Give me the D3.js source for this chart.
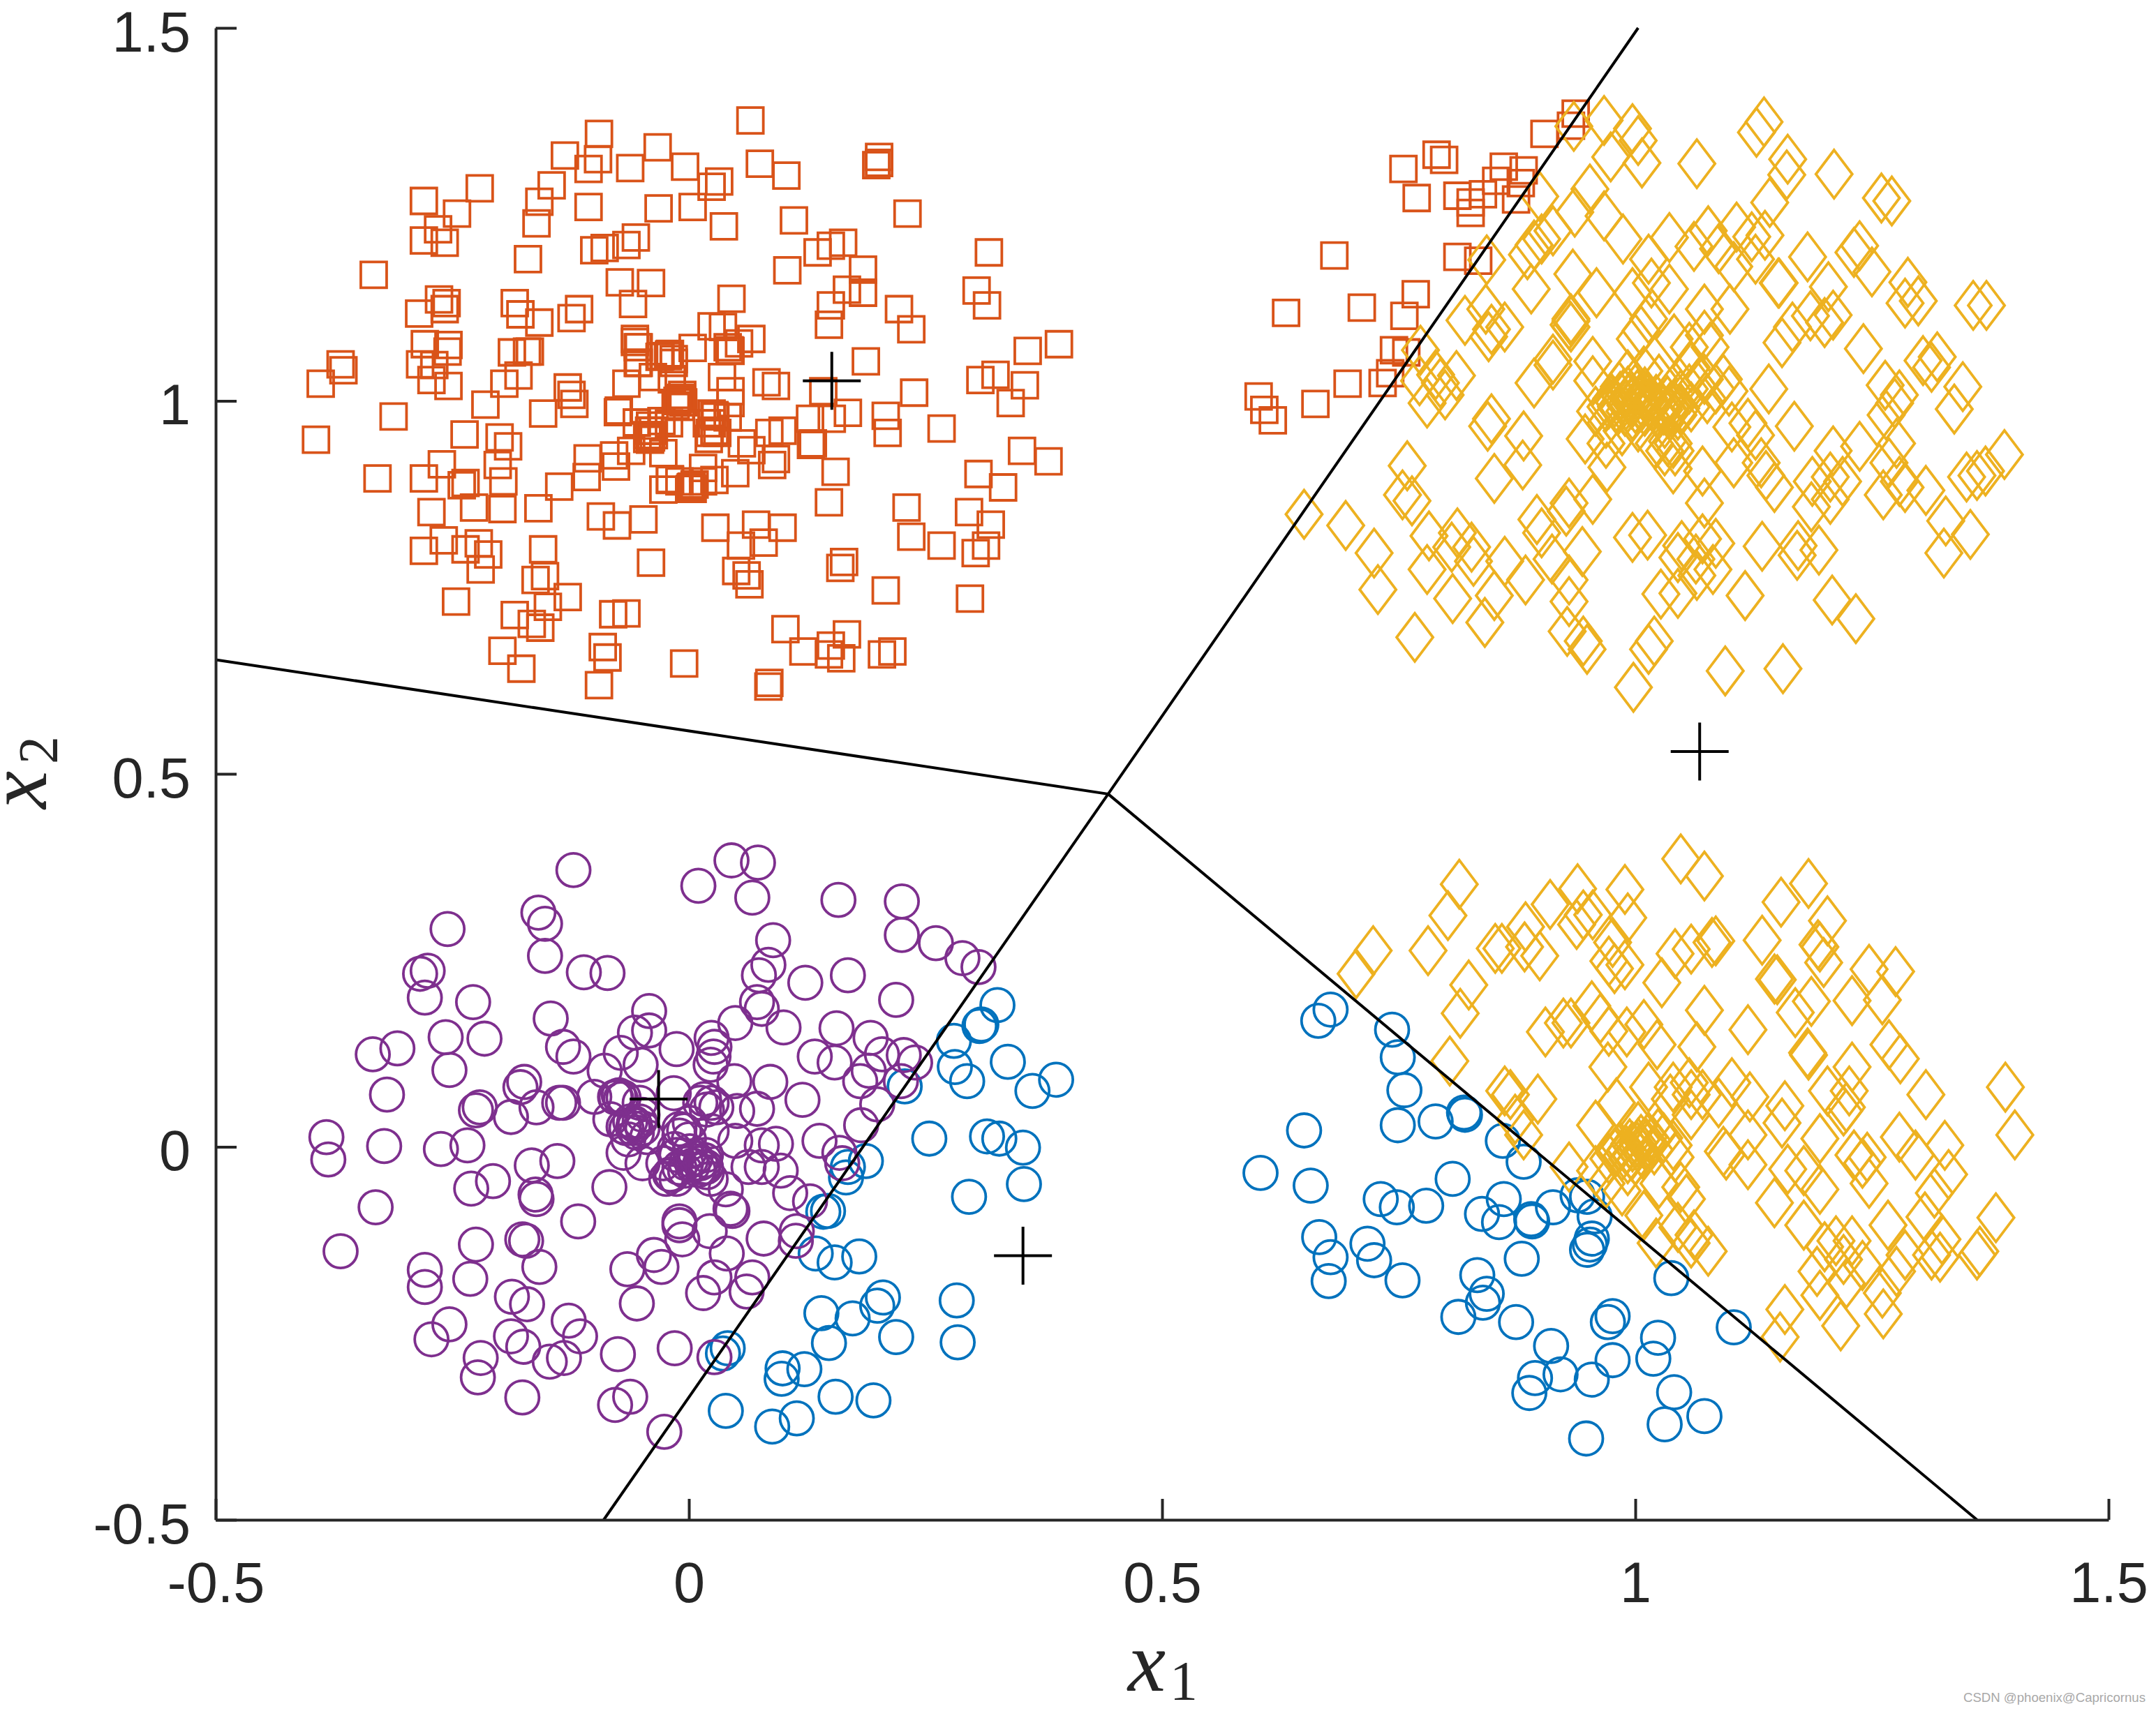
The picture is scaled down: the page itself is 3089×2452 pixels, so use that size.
<!DOCTYPE html>
<html><head><meta charset="utf-8">
<script src="https://cdn.jsdelivr.net/npm/d3@7"></script>
<style>html,body{margin:0;padding:0;background:#fff}svg{display:block}</style>
</head><body><svg id="c" width="3089" height="2452"></svg>
<script>
const xTicks=[-0.5,0,0.5,1,1.5];
const yTicks=[-0.5,0,0.5,1,1.5];
const tickLabels=["-0.5","0","0.5","1","1.5"];
const classColors=["#0072BD","#D95319","#EDB120","#7E2F8E"];
const watermark="CSDN @phoenix@Capricornus";
const boundaryA=[[-0.5,0.653],[0.443,0.473],[1.003,1.5]];
const boundaryB=[[0.443,0.473],[1.361,-0.5]];
const boundaryC=[[0.443,0.473],[-0.09,-0.5]];
const centroids=[[0.151,1.027],[1.068,0.530],[-0.032,0.064],[0.353,-0.146]];
const blueCircles=[[.326,.190],[.309,.164],[.307,.162],[.280,.142],[.337,.114],[.281,.107],[.294,.088],[.228,.081],[.388,.090],[.363,.075],[.254,.011],[.315,.014],[.328,.011],[.353,-.001],[.187,-.019],[.168,-.027],[.166,-.041],[.354,-.050],[.296,-.067],[.147,-.086],[.142,-.087],[.134,-.143],[.154,-.155],[.180,-.147],[.205,-.202],[.199,-.213],[.283,-.206],[.140,-.223],[.173,-.230],[.148,-.263],[.219,-.255],[.284,-.262],[.041,-.270],[.036,-.277],[.099,-.297],[.122,-.298],[.098,-.311],[.155,-.335],[.195,-.340],[.039,-.354],[.114,-.364],[.088,-.375],
[.678,.184],[.665,.169],[.743,.157],[.749,.120],[.756,.076],[.650,.022],[.749,.029],[.789,.034],[.819,.046],[.820,.043],[.860,.008],[.604,-.035],[.882,-.020],[.657,-.052],[.807,-.043],[.731,-.070],[.748,-.081],[.779,-.079],[.939,-.065],[.949,-.067],[.957,-.093],[.913,-.081],[.861,-.070],[.838,-.090],[.856,-.101],[.890,-.097],[.891,-.100],[.954,-.123],[.952,-.131],[.949,-.138],[.666,-.121],[.678,-.148],[.717,-.130],[.724,-.152],[.676,-.180],[.754,-.179],[.880,-.150],[.833,-.172],[1.038,-.176],[.843,-.197],[.839,-.209],[.813,-.228],[.874,-.235],[.976,-.227],[.971,-.235],[1.104,-.242],[.911,-.267],[1.024,-.256],[1.019,-.284],[.976,-.286],[.921,-.305],[.894,-.310],[.954,-.312],[.888,-.330],[1.041,-.329],[1.073,-.361],[1.031,-.372],[.948,-.391]];
const orangeSquares=[[.065,1.376],[-.095,1.358],[-.033,1.340],[-.131,1.329],[-.096,1.324],[-.106,1.311],[-.062,1.312],[-.004,1.314],[.075,1.318],[.103,1.302],[.032,1.294],[.024,1.287],[.201,1.327],[.201,1.319],[.198,1.316],[-.221,1.285],[-.280,1.268],[-.245,1.251],[-.145,1.289],[-.158,1.267],[-.106,1.260],[-.161,1.238],[-.032,1.258],[.004,1.260],[.037,1.234],[.111,1.242],[.231,1.251],[-.265,1.230],[-.280,1.215],[-.258,1.212],[-.170,1.190],[-.056,1.219],[-.066,1.209],[-.089,1.205],[-.100,1.202],[.150,1.208],[.163,1.212],[.136,1.199],[.104,1.175],[.184,1.176],[.317,1.199],[-.333,1.169],[-.073,1.159],[-.040,1.158],[-.059,1.130],[.167,1.149],[.184,1.145],[.150,1.128],[.304,1.148],[.315,1.128],[-.264,1.136],[-.256,1.131],[-.258,1.123],[-.285,1.117],[-.184,1.131],[-.178,1.116],[-.158,1.105],[-.116,1.123],[-.124,1.111],[.045,1.137],[.222,1.123],[.148,1.102],[.235,1.096],[.358,1.067],[.391,1.076],[.024,1.100],[.036,1.099],[.066,1.083],[.053,1.077],[.041,1.072],[.044,1.067],[-.057,1.083],[-.054,1.072],[-.279,1.076],[-.254,1.075],[-.255,1.066],[-.187,1.065],[-.171,1.066],[-.168,1.066],[.004,1.071],[-.031,1.059],[-.021,1.062],[-.016,1.051],[-.054,1.051],[-.368,1.049],[-.365,1.041],[-.389,1.023],[-.284,1.049],[-.269,1.048],[-.272,1.028],[-.254,1.020],[-.180,1.034],[-.195,1.023],[-.066,1.023],[-.038,1.032],[.035,1.032],[.044,1.013],[.082,1.025],[.092,1.020],[-.128,1.018],[-.124,1.008],[-.121,.996],[.187,1.053],[.142,1.013],[.324,1.035],[.308,1.028],[.355,1.021],[.340,.997],[.238,1.011],[.168,.984],[.208,.980],[.210,.957],[.267,.963],[-.312,.979],[-.215,.995],[-.154,.983],[-.074,.987],[-.075,.985],[-.055,.971],[-.010,1.003],[-.009,.992],[-.018,1.029],[-.007,1.008],[.044,.997],[.027,.981],[-.021,.970],[.024,.970],[-.029,.973],[-.038,.960],[-.044,.949],[.021,.949],[.041,.978],[.128,.976],[.151,.976],[.085,.957],[.099,.960],[.056,.943],[.066,.934],[.129,.941],[.131,.943],[-.394,.948],[-.237,.955],[-.200,.951],[-.191,.939],[-.202,.914],[-.261,.915],[-.107,.923],[-.079,.927],[-.077,.912],[-.061,.933],[-.027,.930],[.155,.905],[.092,.922],[.088,.914],[.352,.933],[.380,.919],[-.329,.896],[-.280,.896],[-.236,.890],[-.240,.887],[-.196,.892],[-.137,.885],[-.108,.898],[-.020,.895],[-.010,.892],[.015,.910],[.049,.903],[.027,.894],[.002,.884],[.001,.882],[-.027,.881],[.148,.864],[.306,.902],[.332,.884],[-.272,.851],[-.227,.857],[-.197,.855],[-.159,.856],[-.093,.845],[-.076,.833],[-.048,.841],[.028,.830],[.071,.834],[.099,.830],[.055,.806],[.079,.810],[.230,.857],[.296,.851],[.319,.834],[.235,.818],[.267,.806],[.314,.806],[.303,.796],[-.280,.799],[-.259,.813],[-.222,.809],[-.236,.801],[-.212,.794],[-.220,.774],[-.154,.801],[-.040,.783],[.164,.784],[.160,.776],[.050,.772],[.061,.766],[.064,.754],[-.162,.760],[-.152,.765],[-.128,.737],[-.246,.731],[.208,.746],[.297,.735],[-.149,.724],[-.080,.714],[-.066,.715],[-.184,.713],[-.166,.701],[-.157,.696],[-.197,.665],[-.177,.641],[-.091,.670],[-.086,.656],[-.005,.648],[.102,.694],[.121,.664],[.150,.672],[.167,.687],[.148,.660],[.161,.655],[.204,.660],[.215,.664],[-.095,.619],[.085,.622],[.084,.617],
[-.012,1.000],[-.006,.998],[-.014,.994],[-.008,1.004],[.019,.970],[.027,.960],[.022,.957],[.030,.957],[.024,.983],[.028,.979],[-.042,.960],[-.037,.954],[-.041,.948],[-.044,.954],[-.040,.951],[-.041,.967],[-.022,1.060],[-.020,1.063],[-.016,1.056],[-.030,1.060],[-.057,1.079],[-.053,1.072],[-.053,1.051],[.003,.885],[.006,.888],[.004,.882],[.015,.892],[-.020,.894],[.043,1.068],
[.937,1.385],[.932,1.369],[.904,1.358],[.790,1.330],[.798,1.323],[.755,1.311],[.769,1.272],[.812,1.275],[.861,1.314],[.882,1.309],[.853,1.295],[.839,1.277],[.879,1.292],[.826,1.266],[.826,1.252],[.874,1.270],[.682,1.195],[.812,1.193],[.834,1.188],[.768,1.143],[.711,1.125],[.631,1.118],[.756,1.114],[.745,1.068],[.758,1.065],[.741,1.037],[.733,1.024],[.696,1.023],[.662,.996],[.602,1.006],[.608,.988],[.617,.974]];
const yellowDiamonds=[[.935,1.368],[.967,1.376],[.997,1.365],[1.003,1.349],[1.136,1.374],[1.128,1.360],[.974,1.327],[1.007,1.319],[1.065,1.318],[1.161,1.324],[1.160,1.303],[1.210,1.304],[1.260,1.272],[1.271,1.268],[1.142,1.266],[.899,1.274],[.952,1.284],[.936,1.253],[.967,1.248],[.987,1.217],[.913,1.228],[.901,1.217],[.893,1.209],[.886,1.196],[1.036,1.219],[1.077,1.228],[1.062,1.207],[1.107,1.233],[1.123,1.220],[1.137,1.222],[1.182,1.193],[1.237,1.208],[1.231,1.199],[1.250,1.173],[1.288,1.159],[1.088,1.204],[1.104,1.180],[1.127,1.190],[1.151,1.158],[1.152,1.158],[1.204,1.153],[1.014,1.190],[1.017,1.158],[1.036,1.150],[.934,1.170],[.890,1.150],[.959,1.145],[.843,1.189],[.842,1.123],[.820,1.108],[.848,1.096],[.862,1.099],[.845,1.086],[.932,1.110],[.932,1.107],[.930,1.102],[.932,1.099],[.997,1.145],[1.073,1.123],[1.100,1.123],[1.185,1.114],[1.209,1.115],[1.200,1.105],[1.166,1.099],[1.155,1.078],[1.241,1.070],[1.285,1.131],[1.299,1.134],[1.357,1.128],[1.371,1.128],[1.014,1.110],[1.006,1.094],[1.000,1.083],[1.041,1.083],[1.057,1.072],[1.073,1.088],[1.079,1.072],[.955,1.053],[.913,1.056],[.893,1.024],[.913,1.048],[.773,1.068],[.789,1.035],[.811,1.034],[.772,1.027],[.780,.997],[.799,1.008],[.794,1.024],[.848,.976],[.844,.966],[.882,.953],[.955,1.027],[.958,.986],[.947,.949],[.969,.943],[1.141,1.016],[1.168,.966],[1.127,.954],[1.319,1.059],[1.304,1.054],[1.313,1.045],[1.346,1.019],[1.264,1.021],[1.279,1.008],[1.274,.997],[1.337,.989],[1.265,.981],[1.276,.943],[1.237,.939],[1.390,.928],[1.209,.933],[.759,.913],[.851,.896],[.881,.914],[.970,.911],[1.071,.906],[1.104,.917],[1.133,.917],[1.138,.900],[1.147,.884],[1.040,.909],[1.187,.892],[1.206,.898],[1.219,.892],[1.268,.917],[1.279,.892],[1.262,.874],[1.285,.884],[1.307,.880],[1.350,.898],[1.361,.900],[1.370,.906],[1.206,.868],[1.186,.858],[.754,.874],[.764,.866],[.650,.848],[.930,.863],[.927,.852],[.896,.841],[.955,.868],[1.073,.863],[1.328,.839],[1.354,.821],[1.326,.796],[.694,.833],[.782,.819],[.812,.823],[.806,.804],[.827,.804],[.724,.796],[.780,.774],[.829,.785],[.901,.823],[.912,.788],[.944,.798],[.862,.785],[.997,.817],[1.013,.820],[1.049,.806],[1.071,.815],[1.085,.809],[1.045,.790],[1.064,.788],[1.082,.774],[1.065,.766],[1.134,.805],[1.172,.806],[1.171,.793],[1.194,.800],[.884,.760],[.930,.760],[.728,.747],[.807,.735],[.851,.739],[.930,.731],[1.027,.741],[1.045,.742],[1.116,.739],[1.208,.733],[1.233,.708],[.767,.683],[.841,.703],[.928,.691],[.945,.678],[.949,.667],[1.020,.678],[1.014,.667],[1.095,.638],[1.156,.641],[.998,.616],
[.983,1.019],[.992,1.013],[1.000,1.016],[1.009,1.008],[.986,1.003],[.997,1.000],[1.006,.992],[.980,.992],[.989,.986],[.997,.981],[1.014,.997],[1.023,.986],[.975,1.003],[.969,.992],[1.042,1.019],[1.048,1.008],[1.057,1.016],[1.065,1.021],[1.037,.992],[1.045,.981],[1.031,.970],[1.076,1.003],[1.085,1.016],[1.093,1.029],[1.073,1.029],[1.059,1.045],[1.099,1.013],[1.119,.970],[1.102,.965],[1.059,.992],[.992,1.035],[1.009,1.040],[1.025,1.029],[1.040,.943],[1.031,.933],[1.020,.943],[1.003,.965],[.986,.960],[.969,.970],[1.034,.946],[1.042,.933],
[.978,.998],[.984,1.006],[.990,.994],[.994,1.004],[1.000,.990],[1.002,1.008],[1.006,1.000],[1.010,.986],[1.014,1.004],[1.018,.994],[.982,.988],[.988,1.010],[1.022,1.002],[1.026,.992],[.996,.996],[1.030,.988],[1.036,.984],[1.034,1.000],[1.042,.992],[1.048,.990],[.972,.996],[1.010,1.012],
[1.048,.386],[1.073,.363],[.814,.352],[.802,.310],[.723,.263],[.705,.232],[.781,.263],[.824,.217],[.815,.179],[.804,.115],[.910,.325],[.939,.346],[.989,.345],[.945,.311],[.938,.298],[.955,.311],[.992,.307],[1.154,.328],[1.183,.353],[1.203,.303],[1.134,.277],[1.195,.268],[1.193,.271],[1.199,.247],[1.247,.238],[1.275,.235],[.884,.295],[.852,.266],[.859,.266],[.883,.268],[.899,.256],[.976,.274],[.972,.249],[.989,.244],[.978,.239],[1.042,.259],[1.059,.265],[1.085,.276],[1.081,.274],[1.028,.220],[1.147,.225],[1.150,.224],[1.186,.195],[1.169,.180],[1.229,.196],[1.261,.197],[1.073,.183],[1.119,.157],[.954,.189],[.963,.172],[.924,.166],[.932,.166],[.905,.154],[.972,.155],[.991,.154],[1.009,.164],[1.023,.137],[1.065,.134],[1.183,.123],[1.182,.126],[1.229,.107],[1.268,.137],[1.280,.118],[.971,.107],[.862,.075],[.868,.070],[.897,.064],[1.391,.080],[1.401,.016],[1.307,.070],[1.203,.075],[1.226,.075],[1.220,.048],[1.014,.080],[1.040,.080],[1.057,.086],[1.037,.064],[1.059,.070],[1.071,.070],[1.102,.086],[1.121,.067],[1.088,.059],[1.158,.055],[1.155,.032],[.980,.059],[.958,.029],[1.003,.027],[1.059,.043],[.873,.037],[.882,.016],[1.195,.011],[1.223,.053],[1.119,.016],[1.279,.013],[1.296,-.011],[1.327,.002],[1.331,-.037],[1.231,-.011],[1.245,-.014],[1.240,-.022],[1.247,-.049],[1.093,-.006],[1.096,-.011],[1.119,-.024],[1.161,-.030],[1.178,-.032],[1.195,-.057],[1.316,-.062],[.997,.000],[1.006,-.006],[.992,-.016],[1.003,.005],[.980,-.006],[.992,-.032],[1.014,.013],[1.040,.002],[1.042,-.014],[.958,-.032],[.972,-.016],[.969,-.049],[.930,-.027],[.986,-.059],[1.025,-.049],[1.048,-.054],[1.054,-.070],[1.147,-.075],[1.178,-.105],[1.267,-.105],[1.306,-.094],[1.009,-.092],[1.045,-.108],[1.022,-.129],[1.062,-.118],[1.059,-.129],[1.077,-.140],[1.381,-.095],[1.364,-.140],[1.361,-.145],[1.212,-.126],[1.229,-.126],[1.200,-.134],[1.324,-.124],[1.313,-.145],[1.322,-.148],[1.285,-.145],[1.276,-.167],[1.192,-.167],[1.220,-.151],[1.240,-.159],[1.195,-.199],[1.223,-.183],[1.261,-.196],[1.158,-.218],[1.153,-.255],[1.217,-.240],[1.262,-.224],
[.990,-.004],[.996,-.012],[1.002,.000],[1.008,-.010],[.994,.004],[1.000,-.018],[.986,-.012],[1.012,.004],[.984,.000],[.978,-.008],[1.006,.010],[1.018,.008],[1.024,.018],[1.030,.012],[1.020,-.004]];
const purpleCircles=[[-.122,.371],[.045,.384],[.073,.381],[.010,.350],[.067,.334],[.158,.331],[.225,.329],[.225,.284],[.261,.273],[.289,.253],[.306,.241],[-.159,.314],[-.152,.299],[-.255,.292],[-.152,.256],[.089,.277],[.084,.244],[.074,.230],[.123,.220],[.168,.230],[.219,.197],[-.276,.236],[-.284,.232],[-.279,.200],[-.228,.194],[-.111,.234],[-.086,.233],[.072,.194],[.077,.185],[.100,.160],[.049,.166],[-.146,.172],[-.042,.182],[-.257,.147],[-.216,.145],[-.334,.124],[-.308,.132],[-.253,.103],[-.319,.070],[-.133,.134],[-.122,.121],[-.057,.153],[-.042,.156],[-.013,.131],[-.072,.126],[-.089,.102],[-.051,.110],[.024,.146],[.027,.134],[.026,.121],[.023,.110],[.156,.159],[.192,.146],[.133,.121],[.154,.113],[.204,.124],[.227,.123],[.239,.113],[.190,.102],[.181,.088],[.224,.088],[-.174,.087],[-.178,.080],[-.161,.053],[-.221,.053],[-.225,.049],[-.188,.040],[-.133,.059],[-.137,.059],[-.100,.067],[-.078,.067],[-.072,.064],[.048,.088],[.086,.087],[.120,.063],[.199,.057],[.016,.064],[-.016,.072],[.024,.059],[.051,.048],[.072,.051],[-.083,.037],[-.069,.027],[-.058,.032],[-.049,.043],[-.010,.024],[.001,.032],[.024,.021],[-.383,.013],[-.381,-.017],[-.322,.001],[-.262,-.003],[-.234,.002],[.182,.029],[.138,.008],[.159,-.008],[.092,.004],[.077,.002],[.049,.008],[-.069,-.008],[-.049,-.022],[-.027,-.022],[-.013,-.011],[.001,-.006],[.018,-.011],[-.018,-.038],[-.004,-.032],[.018,-.027],[.023,-.043],[-.024,-.043],[-.013,-.043],[.077,-.027],[.063,-.027],[.097,-.032],[.162,-.022],[-.166,-.025],[-.139,-.019],[-.084,-.054],[-.230,-.056],[-.207,-.046],[-.162,-.064],[-.161,-.070],[.107,-.062],[.128,-.073],[-.331,-.081],[-.117,-.100],[-.010,-.100],[-.010,-.105],[.046,-.086],[.044,-.083],[.039,-.057],[.114,-.113],[.113,-.126],[.079,-.123],[-.007,-.124],[.022,-.113],[-.368,-.140],[-.225,-.131],[-.176,-.124],[-.172,-.126],[-.158,-.161],[-.037,-.145],[-.029,-.161],[.040,-.143],[-.065,-.164],[-.279,-.165],[-.279,-.188],[-.231,-.177],[-.187,-.201],[-.171,-.211],[.027,-.175],[.067,-.175],[.061,-.194],[.015,-.196],[-.055,-.210],[-.253,-.238],[-.272,-.258],[-.127,-.233],[-.115,-.254],[-.188,-.254],[-.175,-.268],[-.220,-.283],[-.147,-.288],[-.132,-.283],[-.223,-.309],[-.075,-.278],[-.015,-.270],[.027,-.282],[-.176,-.336],[-.062,-.335],[-.078,-.346],[-.026,-.382],
[.004,-.025],[.012,-.022],[.015,-.028],[.010,-.031],[.002,-.018],[.017,-.018],[.007,-.015],[-.003,-.022],[-.010,-.028],[-.020,-.037],[.019,-.034],[-.057,.029],[-.059,.025],[-.052,.034],[-.049,.025],[-.055,.019],[-.062,.034],[-.066,.025],[-.064,.010],[-.044,.013],[-.074,.069],[-.069,.066],[-.077,.066],[-.052,.059],[-.010,.015],[-.005,.022],[.000,.010],[-.015,-.003],[.019,.050],[.029,.053],[.012,.059]];
const seriesPoints=[blueCircles,orangeSquares,yellowDiamonds,purpleCircles];

const svg=d3.select("#c");
const x=d3.scaleLinear().domain([-0.5,1.5]).range([309,3021]);
const y=d3.scaleLinear().domain([-0.5,1.5]).range([2178,40]);
const font="'Liberation Sans',Arial,sans-serif";

const diamond={draw(c){c.moveTo(0,-34.5);c.lineTo(26,0);c.lineTo(0,34.5);c.lineTo(-26,0);c.closePath();}};
const square={draw(c){c.rect(-18.5,-18.5,37,37);}};
const circle={draw(c){c.moveTo(24,0);c.arc(0,0,24,0,2*Math.PI);}};
const plus={draw(c){c.moveTo(-41.5,0);c.lineTo(41.5,0);c.moveTo(0,-41.5);c.lineTo(0,41.5);}};
const shapes=[circle,square,diamond,circle];

seriesPoints.forEach((pts,i)=>{
  svg.append("g").attr("fill","none").attr("stroke",classColors[i]).attr("stroke-width",3.8)
    .selectAll("path").data(pts).join("path")
    .attr("transform",d=>`translate(${x(d[0])},${y(d[1])})`)
    .attr("d",d3.symbol().type(shapes[i]));
});
const line=d3.line().x(d=>x(d[0])).y(d=>y(d[1]));
[boundaryA,boundaryB,boundaryC].forEach(b=>svg.append("path").attr("d",line(b)).attr("fill","none").attr("stroke","#000").attr("stroke-width",4));
svg.append("g").attr("fill","none").attr("stroke","#000").attr("stroke-width",4)
  .selectAll("path").data(centroids).join("path")
  .attr("transform",d=>`translate(${x(d[0])},${y(d[1])})`)
  .attr("d",d3.symbol().type(plus));

const gx=svg.append("g").attr("transform",`translate(0,${y(-0.5)})`)
  .call(d3.axisBottom(x).tickValues(xTicks).tickFormat((d,i)=>tickLabels[i]).tickSizeInner(-30).tickSizeOuter(0).tickPadding(0));
const gy=svg.append("g").attr("transform",`translate(${x(-0.5)},0)`)
  .call(d3.axisLeft(y).tickValues(yTicks).tickFormat((d,i)=>tickLabels[i]).tickSizeInner(-30).tickSizeOuter(0).tickPadding(36));
[gx,gy].forEach(g=>{
  g.selectAll("path.domain,line").attr("stroke","#262626").attr("stroke-width",4);
  g.selectAll("text").attr("fill","#262626").attr("font-family",font).attr("font-size",81);
});
gx.selectAll("text").attr("y",0).attr("dy",0).attr("transform","translate(0,118)");
gy.selectAll("text").attr("dy",0).attr("transform","translate(0,33)");

const math="'Liberation Serif','Times New Roman',serif";
const xl=svg.append("g").attr("font-family",math).attr("fill","#262626");
xl.append("text").attr("x",1616).attr("y",2423).attr("font-style","italic").attr("font-size",122).text("x");
xl.append("text").attr("x",1676).attr("y",2436).attr("font-size",80).text("1");
const yl=svg.append("g").attr("transform","translate(66,1159) rotate(-90)").attr("font-family",math).attr("fill","#262626");
yl.append("text").attr("x",0).attr("y",0).attr("font-style","italic").attr("font-size",122).text("x");
yl.append("text").attr("x",64).attr("y",16).attr("font-size",80).text("2");
svg.append("text").attr("x",3074).attr("y",2439).attr("text-anchor","end").attr("font-family",font).attr("font-size",18.6).attr("fill","#a8a8a8").text(watermark);
</script></body></html>
